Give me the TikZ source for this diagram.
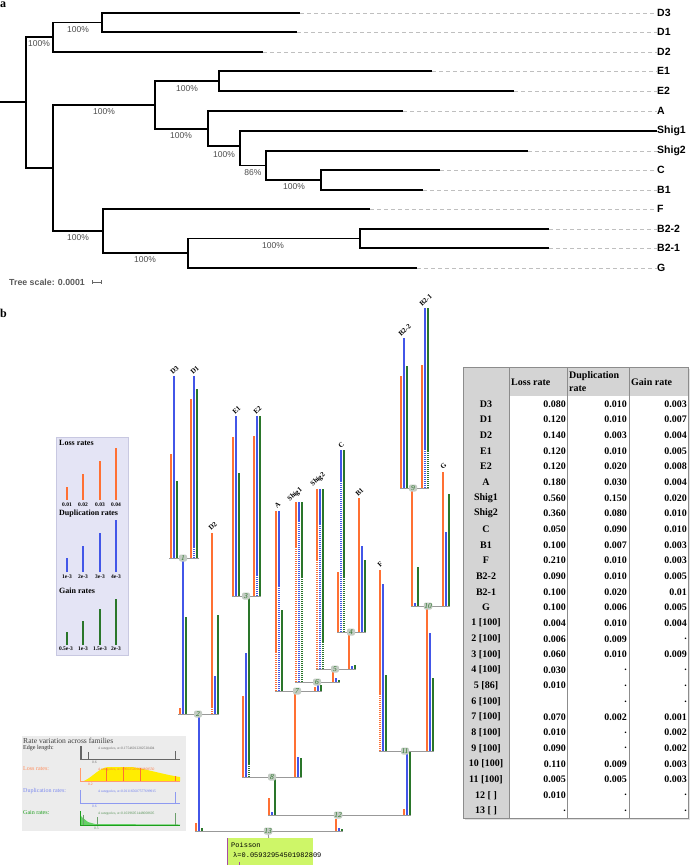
\documentclass[tikz,border=0pt]{standalone}
\usepackage{fontspec}
\setmainfont{Liberation Serif}
\newfontfamily\treefont{Liberation Sans}
\newfontfamily\monofont{Liberation Mono}
\definecolor{losscol}{RGB}{255,112,51}
\definecolor{dupcol}{RGB}{66,86,232}
\definecolor{gaincol}{RGB}{42,118,42}
\definecolor{nodegray}{RGB}{196,204,196}
\definecolor{legbg}{RGB}{228,228,245}
\definecolor{legline}{RGB}{200,200,225}
\definecolor{ratebg}{RGB}{236,236,236}
\definecolor{poisbg}{RGB}{206,246,104}
\definecolor{tabgray}{RGB}{212,212,212}

\begin{document}
\begin{tikzpicture}[x=1pt, y=-1pt,
	branch/.style={line width=1.5pt, black},
	guide/.style={black!25, line width=0.6pt, dash pattern=on 4pt off 3pt},
	leaf/.style={anchor=west, inner sep=0pt, font=\treefont\bfseries\fontsize{10.5}{11}\selectfont},
	boot/.style={inner sep=0pt, text=black!70, font=\treefont\fontsize{8.5}{9}\selectfont},
	lossbar/.style={losscol, line width=1.3pt},
	dupbar/.style={dupcol, line width=1.3pt},
	gainbar/.style={gaincol, line width=1.3pt},
	dotbar/.style={dash pattern=on 1pt off 1pt},
	joint/.style={black!40, line width=0.9pt},
	bnode/.style={fill=nodegray, rounded corners=2pt, inner sep=0.5pt, minimum width=8pt, minimum height=7pt, text=gaincol, font=\itshape\fontsize{7.5}{7.5}\selectfont},
	tiplab/.style={rotate=42, anchor=south west, inner sep=0pt, font=\bfseries\fontsize{7}{7}\selectfont},
	leglab/.style={anchor=west, inner sep=0pt, font=\bfseries\fontsize{8}{8}\selectfont},
	legnum/.style={inner sep=0pt, font=\bfseries\fontsize{5.5}{6}\selectfont},
	ratelab/.style={anchor=west, inner sep=0pt, font=\fontsize{6}{6}\selectfont},
	ratetiny/.style={anchor=west, inner sep=0pt, font=\fontsize{3.6}{4}\selectfont},
	cell/.style={inner sep=0pt, font=\bfseries\fontsize{10}{10}\selectfont}]
	\useasboundingbox (0,0) rectangle (696,868);

	% ---------------- panel a ----------------
	\node[anchor=west, inner sep=0pt, font=\bfseries\fontsize{12}{12}\selectfont] at (0,5) {a};
	% Inner nodes
	\coordinate (r) at (26,102);
	\coordinate (nD) at (53,37);
	\coordinate (nDD) at (102,22.5);
	\coordinate (nL) at (53,168);
	\coordinate (nEA) at (155,105);
	\coordinate (nE) at (219,81);
	\coordinate (nAS) at (208,129);
	\coordinate (nS) at (240,146);
	\coordinate (nSC) at (266,165.5);
	\coordinate (nCB) at (321,180);
	\coordinate (nFG) at (103,231);
	\coordinate (nBG) at (188,253);
	\coordinate (nB) at (360,238.5);
	% Tips
	\coordinate (tD3) at (300,13);
	\coordinate (tD1) at (297,32);
	\coordinate (tD2) at (263,52);
	\coordinate (tE1) at (432,71);
	\coordinate (tE2) at (514,91);
	\coordinate (tA) at (403,111);
	\coordinate (tShig2) at (528,151);
	\coordinate (tC) at (440,170);
	\coordinate (tB1) at (423,190);
	\coordinate (tF) at (370,209);
	\coordinate (tB22) at (549,229);
	\coordinate (tB21) at (549,248);
	\coordinate (tG) at (417,268);
	% Leaf labels
	\node[leaf] (D3) at (657,13) {D3};
	\node[leaf] (D1) at (657,32) {D1};
	\node[leaf] (D2) at (657,52) {D2};
	\node[leaf] (E1) at (657,71) {E1};
	\node[leaf] (E2) at (657,91) {E2};
	\node[leaf] (A) at (657,111) {A};
	\node[leaf] (Shig1) at (657,131) {Shig1};
	\node[leaf] (Shig2) at (657,151) {Shig2};
	\node[leaf] (C) at (657,170) {C};
	\node[leaf] (B1) at (657,190) {B1};
	\node[leaf] (F) at (657,209) {F};
	\node[leaf] (B22) at (657,229) {B2-2};
	\node[leaf] (B21) at (657,248) {B2-1};
	\node[leaf] (G) at (657,268) {G};
	% Dashed guides
	\foreach \t in {D3,D1,D2,E1,E2,A,Shig2,C,B1,F,B22,B21,G}
		\draw[guide] (t\t) -- (\t.west);
	% Branches
	\draw[branch] (0,102) -- (r);
	\draw[branch] (r) |- (nD);
	\draw[branch] (r) |- (nL);
	\draw[branch] (nD) |- (nDD);
	\draw[branch] (nD) |- (tD2);
	\draw[branch] (nDD) |- (tD3);
	\draw[branch] (nDD) |- (tD1);
	\draw[branch] (nL) |- (nEA);
	\draw[branch] (nL) |- (nFG);
	\draw[branch] (nEA) |- (nE);
	\draw[branch] (nEA) |- (nAS);
	\draw[branch] (nE) |- (tE1);
	\draw[branch] (nE) |- (tE2);
	\draw[branch] (nAS) |- (tA);
	\draw[branch] (nAS) |- (nS);
	\draw[branch] (nS) |- (Shig1.west);
	\draw[branch] (nS) |- (nSC);
	\draw[branch] (nSC) |- (tShig2);
	\draw[branch] (nSC) |- (nCB);
	\draw[branch] (nCB) |- (tC);
	\draw[branch] (nCB) |- (tB1);
	\draw[branch] (nFG) |- (tF);
	\draw[branch] (nFG) |- (nBG);
	\draw[branch] (nBG) |- (nB);
	\draw[branch] (nBG) |- (tG);
	\draw[branch] (nB) |- (tB22);
	\draw[branch] (nB) |- (tB21);
	% Support values
	\node[boot] at (39,44) {100\%};
	\node[boot] at (78,30) {100\%};
	\node[boot] at (104,112) {100\%};
	\node[boot] at (187,89) {100\%};
	\node[boot] at (181,136) {100\%};
	\node[boot] at (224,155) {100\%};
	\node[boot] at (253,173) {86\%};
	\node[boot] at (294,187) {100\%};
	\node[boot] at (78,238) {100\%};
	\node[boot] at (145,260) {100\%};
	\node[boot] at (273,246) {100\%};
	% Scale
	\node[anchor=west, inner sep=0pt, text=black!65, font=\treefont\bfseries\fontsize{8.8}{9}\selectfont] at (9,282) {Tree scale: 0.0001};
	\draw[black!60, line width=0.5pt] (92,282) -- (101,282) (92,280) -- (92,284) (101,280) -- (101,284);

	% ---------------- panel b ----------------
	\node[anchor=west, inner sep=0pt, font=\bfseries\fontsize{12}{12}\selectfont] at (0,313) {b};

	% Legend
	\filldraw[fill=legbg, draw=legline] (56,437) rectangle (128,655);
	\node[leglab] at (59,443) {Loss rates};
	\node[leglab] at (59,514) {Duplication rates};
	\node[leglab] at (59,591) {Gain rates};
	\draw[lossbar] (67,500) -- (67,487);
	\draw[lossbar] (83,500) -- (83,474);
	\draw[lossbar] (100,500) -- (100,461);
	\draw[lossbar] (116,500) -- (116,448);
	\draw[dupbar] (67,572) -- (67,558);
	\draw[dupbar] (83,572) -- (83,546);
	\draw[dupbar] (100,572) -- (100,533);
	\draw[dupbar] (116,572) -- (116,520);
	\draw[gainbar] (67,645) -- (67,632);
	\draw[gainbar] (83,645) -- (83,621);
	\draw[gainbar] (100,645) -- (100,609);
	\draw[gainbar] (116,645) -- (116,599);
	\node[legnum] at (67,505) {0.01};
	\node[legnum] at (83,505) {0.02};
	\node[legnum] at (100,505) {0.03};
	\node[legnum] at (116,505) {0.04};
	\node[legnum] at (67,577) {1e-3};
	\node[legnum] at (83,577) {2e-3};
	\node[legnum] at (100,577) {3e-3};
	\node[legnum] at (116,577) {4e-3};
	\node[legnum] at (66,649) {0.5e-3};
	\node[legnum] at (83,649) {1e-3};
	\node[legnum] at (100,649) {1.5e-3};
	\node[legnum] at (116,649) {2e-3};

	% Rate variation across families
	\fill[ratebg] (22,736) rectangle (186,831);
	\node[ratelab, text=black!75, font=\fontsize{7.6}{8}\selectfont] at (23,741) {Rate variation across families};
	\node[ratelab, text=black!85] at (23,748) {Edge length:};
	\node[ratelab, text=losscol!80] at (23,769) {Loss rates:};
	\node[ratelab, text=dupcol!70] at (23,791) {Duplication rates:};
	\node[ratelab, text=gaincol!70!green] at (23,813) {Gain rates:};
	\draw[black!60, line width=0.5pt] (80,746) -- (80,759) -- (180,759);
	\draw[black!60, line width=0.8pt] (81,759) -- (81,746) (88,759) -- (88,752) (175,759) -- (175,751);
	\node[ratetiny, text=black!60] at (98,749) {4 categories, α=0.17546012282520404};
	\node[ratetiny, text=black!60] at (92,762.5) {0.6};
	\fill[yellow!95!orange] (84,781) .. controls (94,776) and (99,768) .. (108,767) -- (132,767) .. controls (150,770) and (166,775) .. (180,777) -- (180,781) -- cycle;
	\draw[losscol!70, line width=0.5pt] (80,768) -- (80,781) -- (180,781);
	\draw[losscol, line width=0.7pt] (106,781) -- (106,768) (123,781) -- (123,767) (140,781) -- (140,768) (175,781) -- (175,776);
	\node[ratetiny, text=losscol] at (98,770) {4 categories, α=3.96025209094808550};
	\node[ratetiny, text=losscol] at (88,784.5) {0.2};
	\draw[dupcol!60, line width=0.5pt] (80,790) -- (80,803) -- (180,803);
	\draw[dupcol!60, line width=0.8pt] (175,803) -- (175,792);
	\node[ratetiny, text=dupcol!80] at (98,792) {4 categories, α=0.011165607577699915};
	\node[ratetiny, text=dupcol!80] at (92,806.5) {0.6};
	\fill[green!70!black!60] (80,825) -- (80,815) -- (83,818) -- (88,822) -- (95,824) -- (180,824.5) -- (180,825) -- cycle;
	\draw[gaincol!70!green, line width=0.5pt] (80,811) -- (80,825) -- (180,825);
	\draw[gaincol!70, line width=0.8pt] (83,825) -- (83,815) (97,825) -- (97,817) (175,825) -- (175,813);
	\node[ratetiny, text=gaincol!80] at (98,814) {4 categories, α=0.10296051448008605};
	\node[ratetiny, text=gaincol!80] at (94,828.5) {0.5};

	% Bars: D3, D1
	\draw[lossbar] (171,558) -- (171,454);
	\draw[dupbar] (174,558) -- (174,376);
	\draw[gainbar] (177,558) -- (177,481);
	\draw[lossbar] (191,558) -- (191,399);
	\draw[dupbar] (194,548) -- (194,376);
	\draw[dupbar, dotbar] (194,558) -- (194,548);
	\draw[gainbar] (197,558) -- (197,389);
	% branch 1, D2
	\draw[lossbar] (180,714) -- (180,708);
	\draw[dupbar] (183,714) -- (183,558);
	\draw[gainbar] (186,714) -- (186,617);
	\draw[lossbar] (212,708) -- (212,533);
	\draw[lossbar, dotbar] (212,714) -- (212,708);
	\draw[dupbar] (215,714) -- (215,676);
	\draw[gainbar] (218,714) -- (218,615);
	% branch 2
	\draw[lossbar] (196,831) -- (196,823);
	\draw[dupbar] (199,831) -- (199,714);
	\draw[gainbar] (202,831) -- (202,828);
	% E1, E2
	\draw[lossbar] (233,596) -- (233,437);
	\draw[dupbar] (236,596) -- (236,416);
	\draw[gainbar] (239,596) -- (239,473);
	\draw[lossbar] (254,596) -- (254,436);
	\draw[dupbar] (257,576) -- (257,416);
	\draw[dupbar, dotbar] (257,596) -- (257,576);
	\draw[gainbar] (260,596) -- (260,416);
	% branch 3
	\draw[lossbar] (243,777) -- (243,696);
	\draw[dupbar] (246,777) -- (246,653);
	\draw[gainbar] (249,765) -- (249,596);
	\draw[gainbar, dotbar] (249,777) -- (249,765);
	% A
	\draw[lossbar] (276,652) -- (276,511);
	\draw[lossbar, dotbar] (276,691) -- (276,652);
	\draw[dupbar] (279,586) -- (279,511);
	\draw[dupbar, dotbar] (279,691) -- (279,586);
	\draw[gainbar] (282,691) -- (282,610);
	% Shig1
	\draw[lossbar] (296,547) -- (296,502);
	\draw[lossbar, dotbar] (296,682) -- (296,547);
	\draw[dupbar] (299,521) -- (299,502);
	\draw[dupbar, dotbar] (299,682) -- (299,521);
	\draw[gainbar] (302,577) -- (302,502);
	\draw[gainbar, dotbar] (302,682) -- (302,577);
	% Shig2
	\draw[lossbar] (317,560) -- (317,489);
	\draw[lossbar, dotbar] (317,669) -- (317,560);
	\draw[dupbar] (320,524) -- (320,489);
	\draw[dupbar, dotbar] (320,669) -- (320,524);
	\draw[gainbar] (323,642) -- (323,489);
	\draw[gainbar, dotbar] (323,669) -- (323,642);
	% C, B1
	\draw[lossbar] (338,632) -- (338,572);
	\draw[dupbar] (341,482) -- (341,450);
	\draw[dupbar, dotbar] (341,632) -- (341,482);
	\draw[gainbar] (344,577) -- (344,450);
	\draw[gainbar, dotbar] (344,632) -- (344,577);
	\draw[lossbar] (359,632) -- (359,498);
	\draw[dupbar] (362,632) -- (362,546);
	\draw[gainbar] (365,632) -- (365,560);
	% branches 4 to 8
	\draw[lossbar] (349,669) -- (349,632);
	\draw[dupbar] (352,669) -- (352,666);
	\draw[gainbar] (355,669) -- (355,665);
	\draw[lossbar] (333,682) -- (333,669);
	\draw[dupbar] (336,682) -- (336,678);
	\draw[gainbar] (339,682) -- (339,680);
	\draw[lossbar] (315,691) -- (315,687);
	\draw[dupbar] (318,691) -- (318,685);
	\draw[gainbar] (321,691) -- (321,685);
	\draw[lossbar] (295,777) -- (295,691);
	\draw[dupbar] (298,777) -- (298,757);
	\draw[gainbar] (301,777) -- (301,758);
	\draw[lossbar] (269,815) -- (269,798);
	\draw[dupbar] (272,815) -- (272,812);
	\draw[gainbar] (275,815) -- (275,777);
	% B2-2, B2-1
	\draw[lossbar] (401,488) -- (401,376);
	\draw[dupbar] (404,488) -- (404,338);
	\draw[gainbar] (407,488) -- (407,366);
	\draw[lossbar] (422,488) -- (422,365);
	\draw[dupbar] (425,450) -- (425,308);
	\draw[dupbar, dotbar] (425,488) -- (425,450);
	\draw[gainbar] (428,452) -- (428,308);
	\draw[gainbar, dotbar] (428,488) -- (428,452);
	% branch 9, G
	\draw[lossbar] (412,606) -- (412,488);
	\draw[dupbar] (415,606) -- (415,603);
	\draw[gainbar] (418,606) -- (418,567);
	\draw[lossbar] (443,606) -- (443,472);
	\draw[dupbar] (446,606) -- (446,532);
	\draw[gainbar] (449,606) -- (449,494);
	% branch 10, F
	\draw[lossbar] (427,751) -- (427,606);
	\draw[dupbar] (430,751) -- (430,633);
	\draw[gainbar] (433,751) -- (433,678);
	\draw[lossbar] (380,695) -- (380,570);
	\draw[lossbar, dotbar] (380,751) -- (380,695);
	\draw[dupbar] (383,751) -- (383,584);
	\draw[gainbar] (386,751) -- (386,675);
	% branches 11, 12
	\draw[lossbar] (404,815) -- (404,809);
	\draw[dupbar] (407,815) -- (407,751);
	\draw[gainbar] (410,815) -- (410,751);
	\draw[lossbar] (336,831) -- (336,819);
	\draw[dupbar] (339,831) -- (339,828);
	\draw[gainbar] (342,831) -- (342,829);

	% Joints
	\draw[joint] (169,558) -- (199,558);
	\draw[joint] (178,714) -- (219,714);
	\draw[joint] (232,596) -- (261,596);
	\draw[joint] (337,632) -- (366,632);
	\draw[joint] (316,669) -- (356,669);
	\draw[joint] (295,682) -- (340,682);
	\draw[joint] (275,691) -- (322,691);
	\draw[joint] (242,777) -- (302,777);
	\draw[joint] (400,488) -- (429,488);
	\draw[joint] (411,606) -- (450,606);
	\draw[joint] (379,751) -- (434,751);
	\draw[joint] (268,815) -- (411,815);
	\draw[joint] (195,831) -- (343,831);
	\node[bnode] (n1) at (183,558) {1};
	\node[bnode] (n2) at (198,714) {2};
	\node[bnode] (n3) at (246,596) {3};
	\node[bnode] (n4) at (351,632) {4};
	\node[bnode] (n5) at (335,669) {5};
	\node[bnode] (n6) at (317,682) {6};
	\node[bnode] (n7) at (297,691) {7};
	\node[bnode] (n8) at (272,777) {8};
	\node[bnode] (n9) at (413,488) {9};
	\node[bnode] (n10) at (428,606) {10};
	\node[bnode] (n11) at (405,751) {11};
	\node[bnode] (n12) at (338,815) {12};
	\node[bnode] (n13) at (268,831) {13};

	% Tip labels
	\node[tiplab] at (173,375) {D3};
	\node[tiplab] at (193,375) {D1};
	\node[tiplab] at (211,531) {D2};
	\node[tiplab] at (235,415) {E1};
	\node[tiplab] at (256,415) {E2};
	\node[tiplab] at (277,509) {A};
	\node[tiplab] at (291,503) {Shig1};
	\node[tiplab] at (314,488) {Shig2};
	\node[tiplab] at (341,449) {C};
	\node[tiplab] at (358,497) {B1};
	\node[tiplab] at (380,568) {F};
	\node[tiplab] at (401,337) {B2-2};
	\node[tiplab] at (422,307) {B2-1};
	\node[tiplab] at (443,470) {G};

	% Poisson
	\node[fill=poisbg, minimum width=86pt, minimum height=27pt, inner sep=0pt] (pois) at (270,851.5) {};
	\draw[joint] (n13) -- (pois);
	\draw[violet!70, line width=1pt] (227.5,838) -- (227.5,865) (239,862) -- (239,865);
	\node[anchor=west, inner sep=0pt, font=\monofont\fontsize{7}{7}\selectfont] at (231,845) {Poisson};
	\node[anchor=west, inner sep=0pt, font=\monofont\fontsize{7}{7}\selectfont] at (233,855) {λ=0.05932954501982809};

	% ---------------- table ----------------
	\fill[black!12] (465,369) rectangle (690,820);
	\fill[white] (463,367) rectangle (688,818);
	\fill[tabgray] (463,367) rectangle (688,396);
	\fill[tabgray] (463,396) rectangle (509,818);
	\draw[black!45, line width=0.7pt] (463,367) rectangle (688,818);
	\draw[black!45, line width=0.7pt] (509,367) -- (509,818) (567,367) -- (567,818) (629,367) -- (629,818);
	\node[cell, anchor=west] at (511,382) {Loss rate};
	\node[cell, anchor=west] at (569,376) {Duplication};
	\node[cell, anchor=west] at (569,389) {rate};
	\node[cell, anchor=west] at (631,382) {Gain rate};
	\foreach \nm/\lo/\du/\ga [count=\i from 0] in {
		D3/0.080/0.010/0.003, D1/0.120/0.010/0.007, D2/0.140/0.003/0.004,
		E1/0.120/0.010/0.005, E2/0.120/0.020/0.008, A/0.180/0.030/0.004,
		Shig1/0.560/0.150/0.020, Shig2/0.360/0.080/0.010, C/0.050/0.090/0.010,
		B1/0.100/0.007/0.003, F/0.210/0.010/0.003, B2-2/0.090/0.010/0.005,
		B2-1/0.100/0.020/0.01, G/0.100/0.006/0.005,
		{1 [100]}/0.004/0.010/0.004, {2 [100]}/0.006/0.009/., {3 [100]}/0.060/0.010/0.009,
		{4 [100]}/0.030/./., {5 [86]}/0.010/./., {6 [100]}/{}/./.,
		{7 [100]}/0.070/0.002/0.001, {8 [100]}/0.010/./0.002, {9 [100]}/0.090/./0.002,
		{10 [100]}/0.110/0.009/0.003, {11 [100]}/0.005/0.005/0.003,
		{12 [ ]}/0.010/./., {13 [ ]}/././.}{
		\node[cell] at (486,{404+15.65*\i}) {\nm};
		\node[cell, anchor=east] at (566,{404+15.65*\i}) {\lo};
		\node[cell, anchor=east] at (627,{404+15.65*\i}) {\du};
		\node[cell, anchor=east] at (687,{404+15.65*\i}) {\ga};
	}
\end{tikzpicture}
\end{document}
